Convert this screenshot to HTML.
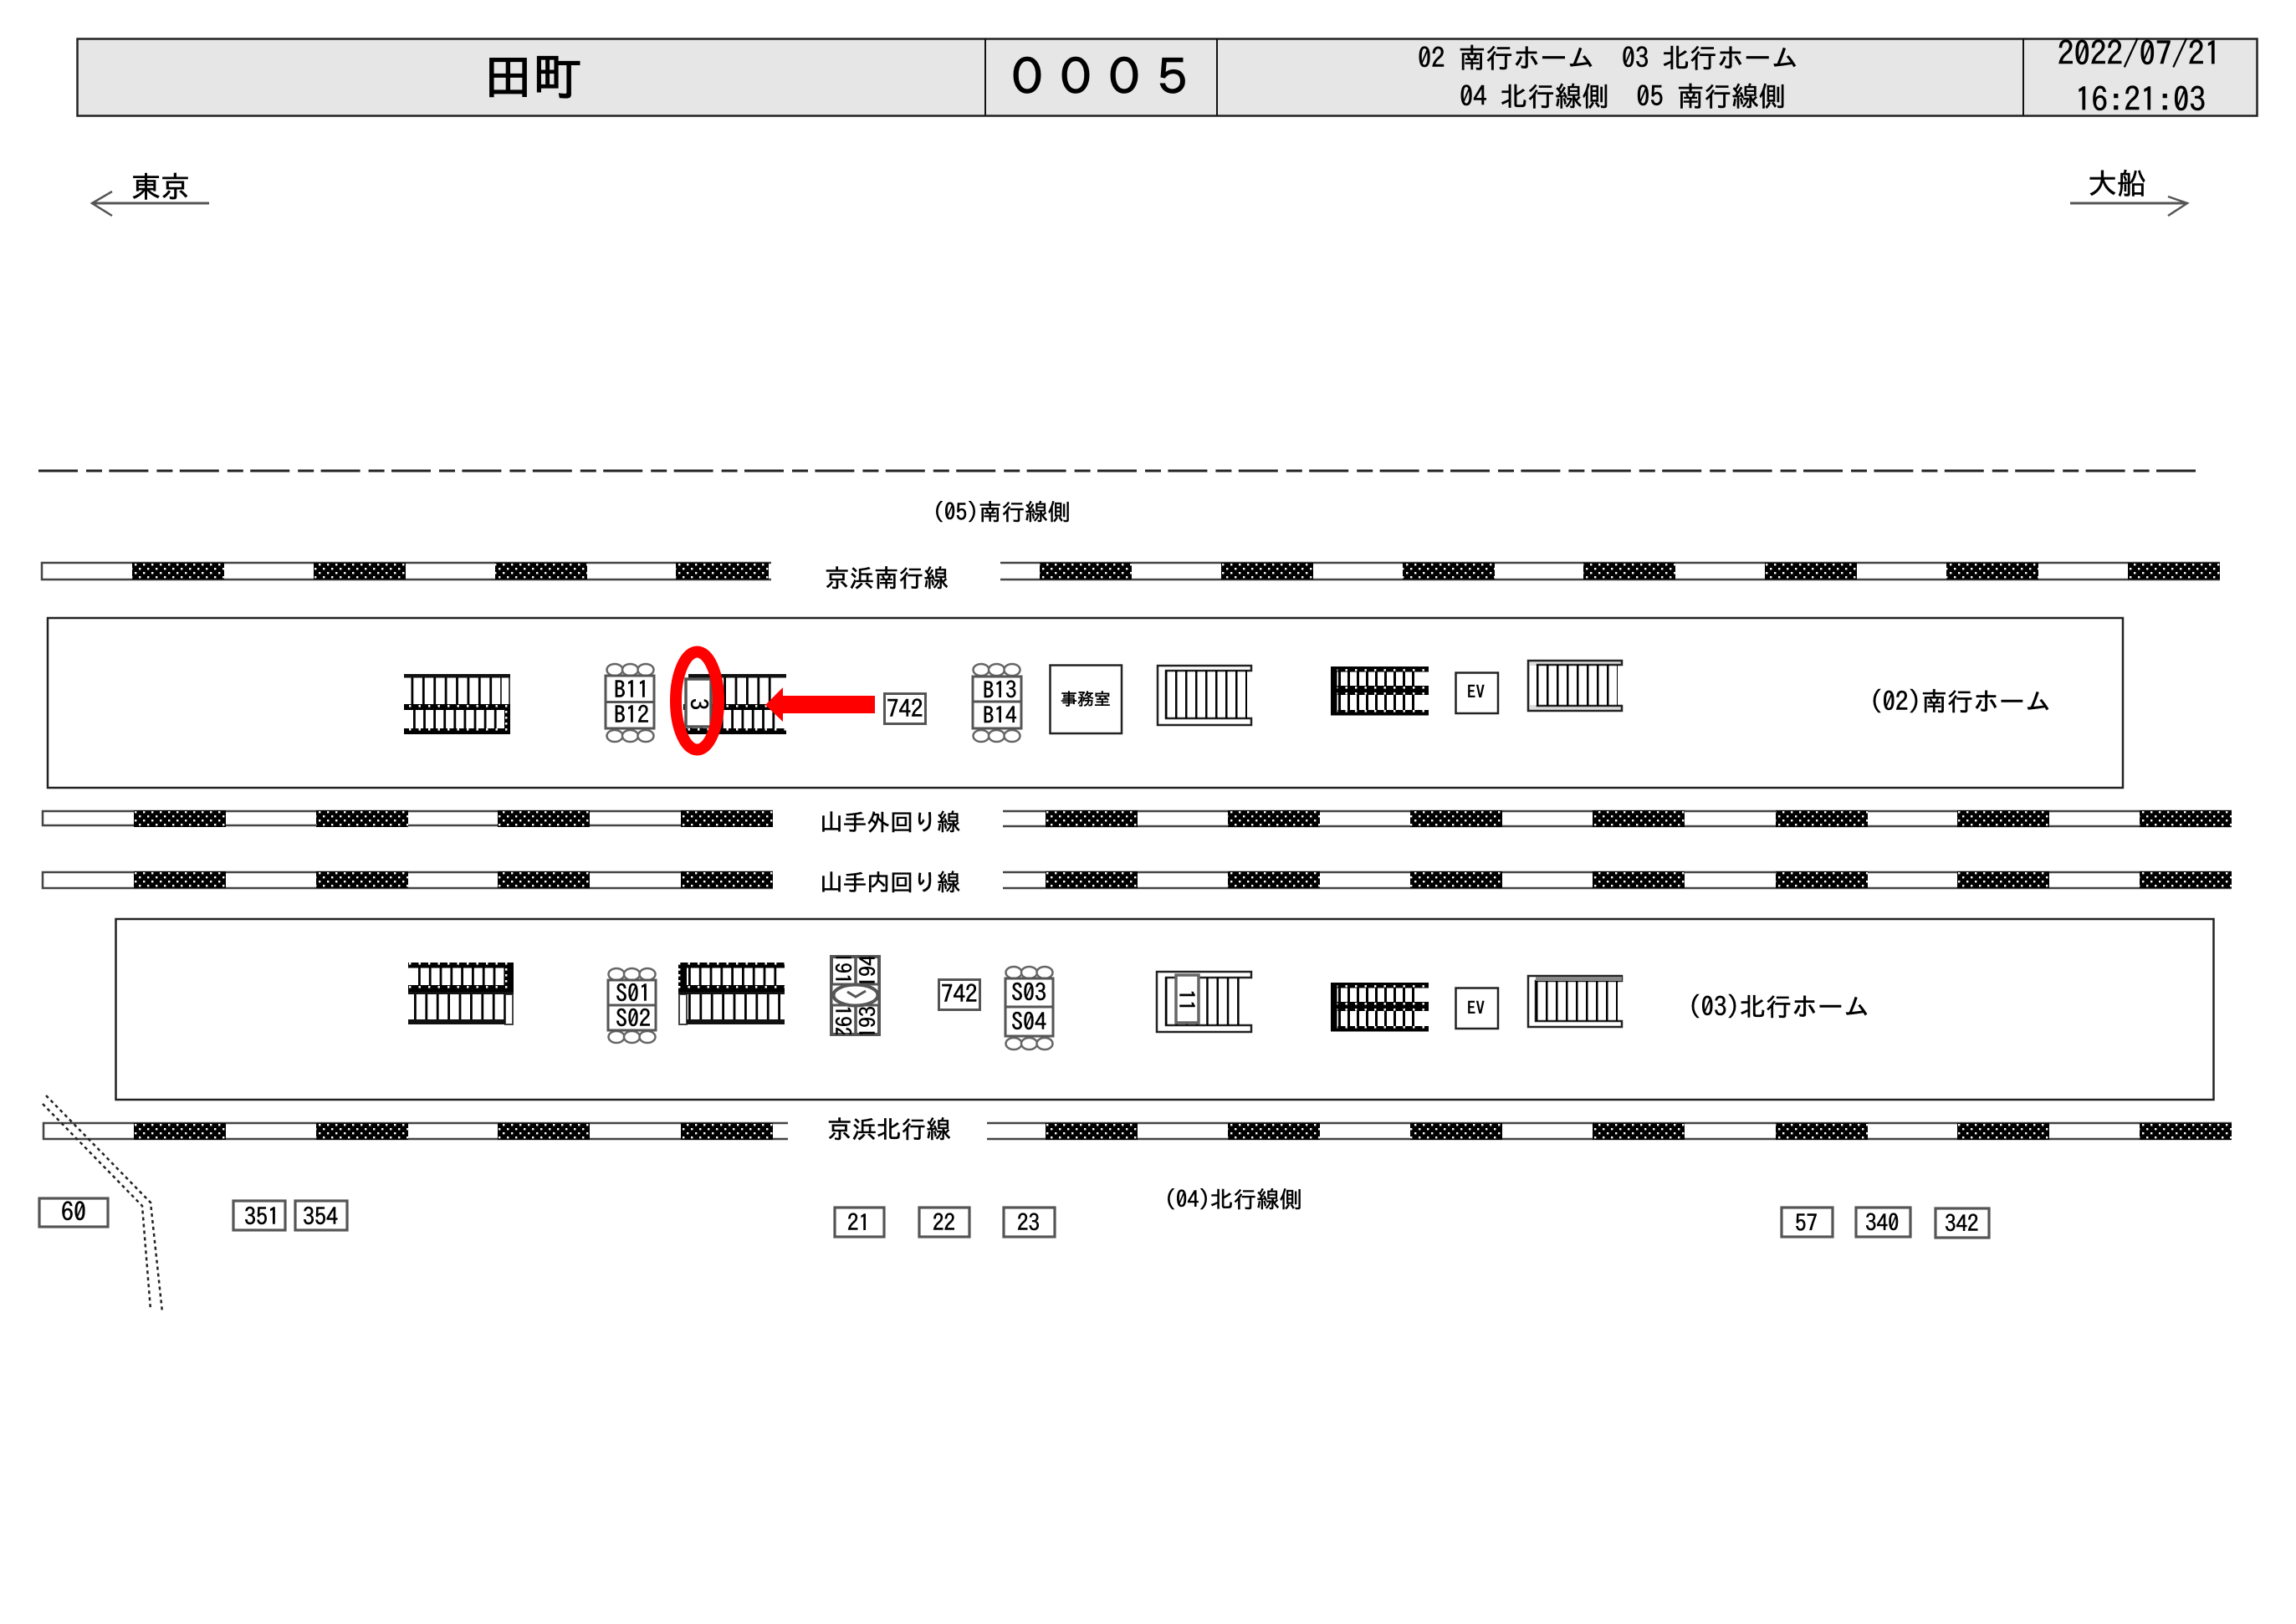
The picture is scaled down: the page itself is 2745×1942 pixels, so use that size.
<!DOCTYPE html>
<html lang="ja"><head><meta charset="utf-8"><title>田町 0005</title>
<style>
html,body{margin:0;padding:0;background:#fff}
svg{display:block}
text{font-family:"IPAGothic","Noto Sans CJK JP","Liberation Sans",sans-serif;fill:#000;stroke:#000;stroke-width:.55px;white-space:pre}
</style></head><body>
<svg xmlns="http://www.w3.org/2000/svg" width="2745" height="1942" viewBox="0 0 2745 1942">
<defs>
<pattern id="t" width="10" height="10" patternUnits="userSpaceOnUse"><rect width="10" height="10" fill="#000"/><rect x="1" y="1" width="2.4" height="2.4" fill="#fff"/><rect x="6" y="6" width="2.4" height="2.4" fill="#fff"/></pattern>
<pattern id="b" width="11.5" height="7" patternUnits="userSpaceOnUse" patternTransform="translate(3 1)"><rect width="11.5" height="7" fill="#000"/><rect x="3" y="2" width="2.4" height="2.6" fill="#fff"/></pattern>
<clipPath id="clk"><rect x="994" y="1144" width="58" height="93"/></clipPath>
<g id="bl1"><rect x="158" width="110" height="20" fill="url(#t)"/><rect x="375" width="110" height="20" fill="url(#t)"/><rect x="592" width="110" height="20" fill="url(#t)"/><rect x="808" width="111" height="20" fill="url(#t)"/></g>
<g id="br1"><rect x="1243" width="110" height="20" fill="url(#t)"/><rect x="1460" width="110" height="20" fill="url(#t)"/><rect x="1677" width="110" height="20" fill="url(#t)"/><rect x="1893" width="110" height="20" fill="url(#t)"/><rect x="2110" width="110" height="20" fill="url(#t)"/><rect x="2327" width="110" height="20" fill="url(#t)"/><rect x="2544" width="110" height="20" fill="url(#t)"/></g>
<g id="bl2"><rect x="160" width="110" height="20" fill="url(#t)"/><rect x="378" width="110" height="20" fill="url(#t)"/><rect x="595" width="110" height="20" fill="url(#t)"/><rect x="814" width="110" height="20" fill="url(#t)"/></g>
<g id="br2"><rect x="1250" width="110" height="20" fill="url(#t)"/><rect x="1468" width="110" height="20" fill="url(#t)"/><rect x="1686" width="110" height="20" fill="url(#t)"/><rect x="1904" width="110" height="20" fill="url(#t)"/><rect x="2123" width="110" height="20" fill="url(#t)"/><rect x="2340" width="110" height="20" fill="url(#t)"/><rect x="2558" width="110" height="20" fill="url(#t)"/></g>
<g id="circ" fill="#fff" stroke="#666" stroke-width="2.5"><ellipse cx="0" cy="0" rx="9.5" ry="7"/><ellipse cx="18.5" cy="0" rx="9.5" ry="7"/><ellipse cx="37" cy="0" rx="9.5" ry="7"/></g>
<g id="blk"><rect x="0" y="0" width="117" height="58" fill="#fff"/>
<line x1="9" x2="108" y1="29" y2="29" stroke="#000" stroke-width="50" stroke-dasharray="3 8"/>
<rect x="0" y="0" width="117" height="6.5" fill="url(#b)"/><rect x="0" y="23" width="117" height="11" fill="url(#b)"/><rect x="0" y="52" width="117" height="6.5" fill="url(#b)"/><rect x="0" y="0" width="7.5" height="58" fill="#000"/></g>
</defs>

<!-- header -->
<rect x="92.5" y="46.5" width="2606" height="92" fill="#e6e6e6" stroke="#222" stroke-width="2.5"/>
<line x1="1178" x2="1178" y1="46" y2="138" stroke="#111" stroke-width="2"/>
<line x1="1455" x2="1455" y1="46" y2="138" stroke="#111" stroke-width="2"/>
<line x1="2419" x2="2419" y1="46" y2="138" stroke="#111" stroke-width="2"/>
<text x="578" y="113" font-size="59" style="stroke-width:1.2px">田町</text>
<text x="1199" y="113" font-size="58" style="stroke-width:1.2px">０００５</text>
<text x="1695" y="81" font-size="32.5">02 南行ホーム  03 北行ホーム</text>
<text x="1745" y="127" font-size="32.5">04 北行線側  05 南行線側</text>
<text x="2460" y="78" font-size="39">2022/07/21</text>
<text x="2481" y="133" font-size="39">16:21:03</text>

<!-- direction arrows -->
<g fill="none" stroke="#555" stroke-width="2.5"><path d="M134 229 L110 243 L134 258"/><line x1="111" x2="250" y1="243" y2="243" stroke-width="3"/>
<path d="M2592 235 L2615 243 L2592 258"/><line x1="2475" x2="2615" y1="243" y2="243" stroke-width="3"/></g>
<text x="157" y="236" font-size="35">東京</text>
<text x="2496" y="232" font-size="35">大船</text>

<!-- dash dot line -->
<line x1="46" x2="2625" y1="563" y2="563" stroke="#222" stroke-width="3" stroke-dasharray="47 10 19 8.4"/>

<text x="1115" y="622" font-size="27.5">(05)南行線側</text>
<text x="1392" y="1444" font-size="27.5">(04)北行線側</text>

<!-- tracks -->
<g fill="none" stroke="#444" stroke-width="2.5">
<path d="M922 673 H50 V693 H922" fill="#fff"/><path d="M2654 673 H1196 M1196 693 H2654"/>
<path d="M924 970 H51 V987 H924" fill="#fff"/><path d="M2668 970 H1199 M1199 988 H2668"/>
<path d="M924 1043 H51 V1062 H924" fill="#fff"/><path d="M2668 1043 H1199 M1199 1062 H2668"/>
<path d="M942 1343 H52 V1362 H942" fill="#fff"/><path d="M2668 1343 H1180 M1180 1362 H2668"/>
</g>
<use href="#bl1" y="673"/><use href="#br1" y="673"/>
<use href="#bl2" y="969"/><use href="#br2" y="969"/>
<use href="#bl2" y="1042"/><use href="#br2" y="1042"/>
<use href="#bl2" y="1343"/><use href="#br2" y="1343"/>
<text x="986" y="702" font-size="29.5">京浜南行線</text>
<text x="980" y="993" font-size="28">山手外回り線</text>
<text x="980" y="1065" font-size="28">山手内回り線</text>
<text x="989" y="1361" font-size="29.5">京浜北行線</text>

<!-- platforms -->
<rect x="57" y="739" width="2481" height="203" fill="none" stroke="#222" stroke-width="2.5"/>
<rect x="138.5" y="1099" width="2508" height="216" fill="none" stroke="#222" stroke-width="2.5"/>
<text x="2235" y="850" font-size="31">(02)南行ホーム</text>
<text x="2018" y="1215" font-size="31">(03)北行ホーム</text>

<!-- stair A -->
<rect x="599" y="808" width="10" height="35" fill="#fff" stroke="#444" stroke-width="2"/>
<line x1="491.500" x2="599" y1="826" y2="826" stroke="#000" stroke-width="32" stroke-dasharray="2.800 10.600"/>
<line x1="494" x2="600" y1="860" y2="860" stroke="#000" stroke-width="24" stroke-dasharray="2.800 9.300"/>
<rect x="483" y="806" width="127" height="4.500" fill="#111"/>
<rect x="483" y="842" width="127" height="7" fill="url(#b)"/><rect x="483" y="871" width="127" height="7" fill="url(#b)"/><rect x="603" y="843" width="7" height="35" fill="url(#b)"/>

<!-- stair B -->
<line x1="825" x2="932" y1="826" y2="826" stroke="#000" stroke-width="32" stroke-dasharray="2.800 10.600"/>
<line x1="825" x2="932" y1="860" y2="860" stroke="#000" stroke-width="24" stroke-dasharray="2.800 9.500"/>
<rect x="823" y="806" width="117" height="4.500" fill="#111"/>
<rect x="817" y="842" width="123" height="7" fill="url(#b)"/><rect x="817" y="871" width="123" height="7" fill="url(#b)"/>

<!-- B11 B12 -->
<use href="#circ" x="735" y="801"/><use href="#circ" x="735" y="880"/>
<rect x="724" y="808" width="58" height="63" fill="#fff" stroke="#555" stroke-width="3"/><line x1="724" x2="782" y1="839.5" y2="839.5" stroke="#555" stroke-width="3"/>
<text x="734" y="835" font-size="28">B11</text><text x="734" y="865" font-size="28">B12</text>

<!-- ad box 3 -->
<rect x="820" y="812" width="30" height="57" fill="#fff" stroke="#555" stroke-width="3.5"/>
<text transform="translate(825 835) rotate(90)" font-size="28">3</text>

<!-- red marker -->
<ellipse cx="833.500" cy="838" rx="25.5" ry="58.5" fill="none" stroke="#f00" stroke-width="14"/>
<path d="M915 843 L936 822 V832 H1046 V853 H936 V863 Z" fill="#f00"/>

<!-- 742 -->
<rect x="1057.5" y="829.5" width="49" height="36" fill="#fff" stroke="#555" stroke-width="3"/>
<text x="1060" y="858" font-size="29">742</text>

<!-- B13 B14 -->
<use href="#circ" x="1173" y="801"/><use href="#circ" x="1173" y="880"/>
<rect x="1163" y="809" width="58" height="62" fill="#fff" stroke="#555" stroke-width="3"/><line x1="1163" x2="1221" y1="839" y2="839" stroke="#555" stroke-width="3"/>
<text x="1175" y="835" font-size="27">B13</text><text x="1175" y="865" font-size="27">B14</text>

<!-- office -->
<rect x="1255.5" y="795.5" width="85.5" height="81.5" fill="#fff" stroke="#222" stroke-width="2.5"/>
<text x="1268" y="843" font-size="20">事務室</text>

<!-- stair C -->
<path d="M1496 796 H1384 V867 H1496 V859 H1394 V802 H1496 Z" fill="#fff" stroke="#222" stroke-width="2.5"/>
<line x1="1393" x2="1491" y1="830.5" y2="830.5" stroke="#000" stroke-width="57" stroke-dasharray="2.5 9.5"/>

<!-- stair D -->
<use href="#blk" x="1591" y="797"/>

<!-- EV -->
<rect x="1740.5" y="804.5" width="50.5" height="48.5" fill="#fff" stroke="#222" stroke-width="2.5"/>
<text x="1754" y="835" font-size="21">EV</text>

<!-- stair E -->
<path d="M1939 790 H1827 V850 H1939 V844 H1838 V795 H1939 Z" fill="#ddd" stroke="#222" stroke-width="2.5"/>
<rect x="1829" y="796" width="8" height="47" fill="#fff"/>
<line x1="1837" x2="1934" y1="819.5" y2="819.5" stroke="#000" stroke-width="49" stroke-dasharray="2.5 9.5"/>

<!-- stair F -->
<rect x="604" y="1189" width="9" height="36" fill="#fff" stroke="#444" stroke-width="2"/>
<line x1="500" x2="604" y1="1168" y2="1168" stroke="#000" stroke-width="24" stroke-dasharray="2.800 10"/>
<line x1="495" x2="604" y1="1204" y2="1204" stroke="#000" stroke-width="32" stroke-dasharray="2.800 10.600"/>
<rect x="488" y="1151" width="126" height="6.5" fill="url(#b)"/><rect x="488" y="1178" width="126" height="8" fill="url(#b)"/><rect x="488" y="1186" width="126" height="3" fill="#111"/>
<rect x="604" y="1151" width="10" height="33" fill="url(#b)"/><rect x="488" y="1219" width="116" height="6" fill="#111"/>

<!-- S01 S02 -->
<use href="#circ" x="737" y="1165"/><use href="#circ" x="737" y="1240"/>
<rect x="727" y="1172" width="57" height="60" fill="#fff" stroke="#555" stroke-width="3"/><line x1="727" x2="784" y1="1202" y2="1202" stroke="#555" stroke-width="3"/>
<text x="736" y="1198" font-size="28">S01</text><text x="736" y="1228" font-size="28">S02</text>

<!-- stair G -->
<rect x="812" y="1189" width="9" height="36" fill="#fff" stroke="#444" stroke-width="2"/>
<line x1="823" x2="930" y1="1168" y2="1168" stroke="#000" stroke-width="24" stroke-dasharray="2.800 10"/>
<line x1="823" x2="935" y1="1204" y2="1204" stroke="#000" stroke-width="32" stroke-dasharray="2.800 10.600"/>
<rect x="811" y="1151" width="127" height="6.5" fill="url(#b)"/><rect x="811" y="1178" width="127" height="8" fill="url(#b)"/><rect x="811" y="1186" width="127" height="3" fill="#111"/>
<rect x="811" y="1151" width="10" height="33" fill="url(#b)"/><rect x="821" y="1219" width="117" height="6" fill="#111"/>

<!-- clock block -->
<rect x="994" y="1144" width="57" height="93" fill="#fff" stroke="#555" stroke-width="4"/>
<line x1="1023" x2="1023" y1="1144" y2="1237" stroke="#555" stroke-width="3.5"/>
<g clip-path="url(#clk)">
<text transform="translate(998 1138) rotate(90)" font-size="26">191</text>
<text transform="translate(998 1202) rotate(90)" font-size="26">192</text>
<text transform="translate(1047 1181) rotate(-90)" font-size="26">194</text>
<text transform="translate(1047 1242) rotate(-90)" font-size="26">193</text>
</g>
<rect x="994" y="1177" width="57" height="25" fill="#fff" stroke="#555" stroke-width="3"/>
<ellipse cx="1023" cy="1190" rx="26.500" ry="12.500" fill="#fff" stroke="#555" stroke-width="4"/>
<path d="M1013 1186 L1023 1192 L1035 1185" fill="none" stroke="#555" stroke-width="3"/>

<!-- 742 -->
<rect x="1122.5" y="1171.5" width="49" height="36" fill="#fff" stroke="#555" stroke-width="3"/>
<text x="1125" y="1199" font-size="29">742</text>

<!-- S03 S04 -->
<use href="#circ" x="1212" y="1163"/><use href="#circ" x="1212" y="1248"/>
<rect x="1202" y="1170" width="57" height="69" fill="#fff" stroke="#555" stroke-width="3"/><line x1="1202" x2="1259" y1="1204" y2="1204" stroke="#555" stroke-width="3"/>
<text x="1209" y="1197" font-size="28">S03</text><text x="1209" y="1232" font-size="28">S04</text>

<!-- stair H -->
<path d="M1496 1162 H1383 V1234 H1496 V1226 H1394 V1169 H1496 Z" fill="#fff" stroke="#222" stroke-width="2.5"/>
<line x1="1393" x2="1491" y1="1197.5" y2="1197.5" stroke="#000" stroke-width="57" stroke-dasharray="2.5 9.800"/>
<rect x="1406" y="1166" width="27" height="57" fill="#fff" stroke="#666" stroke-width="3.5"/>
<text transform="translate(1409 1183) rotate(90)" font-size="26">11</text>

<!-- stair I -->
<use href="#blk" x="1591" y="1175"/>

<!-- EV -->
<rect x="1740.5" y="1181.5" width="50.5" height="48.5" fill="#fff" stroke="#222" stroke-width="2.5"/>
<text x="1754" y="1213" font-size="21">EV</text>

<!-- stair J -->
<path d="M1939 1167 H1827 V1228 H1939 V1221 H1836 V1173 H1939 Z" fill="#fff" stroke="#222" stroke-width="2.5"/>
<rect x="1836" y="1168" width="103" height="5" fill="#888"/>
<line x1="1836" x2="1934" y1="1197" y2="1197" stroke="#000" stroke-width="48" stroke-dasharray="2.5 9.500"/>

<!-- dotted double line -->
<g fill="none" stroke="#222" stroke-width="2.5" stroke-dasharray="4 4">
<path d="M55 1310 L180 1438 L194 1569"/><path d="M51 1320 L170 1442 L180 1566"/></g>

<!-- pillar boxes -->
<g fill="#fff" stroke="#555" stroke-width="3.2">
<rect x="47" y="1433" width="82" height="34"/><rect x="279" y="1436" width="62" height="35"/><rect x="353" y="1436" width="62" height="35"/>
<rect x="998" y="1444" width="59" height="35"/><rect x="1099" y="1444" width="60" height="35"/><rect x="1200" y="1444" width="61" height="35"/>
<rect x="2130" y="1444" width="61" height="35"/><rect x="2219" y="1444" width="65" height="35"/><rect x="2314" y="1445" width="64" height="35"/></g>
<text x="73" y="1460" font-size="30">60</text>
<text x="292" y="1465" font-size="28">351</text>
<text x="362" y="1465" font-size="28">354</text>
<text x="1013" y="1472" font-size="27">21</text>
<text x="1115" y="1472" font-size="27">22</text>
<text x="1216" y="1472" font-size="27">23</text>
<text x="2146" y="1472" font-size="27">57</text>
<text x="2230" y="1472" font-size="27">340</text>
<text x="2325" y="1473" font-size="27">342</text>
</svg>
</body></html>
